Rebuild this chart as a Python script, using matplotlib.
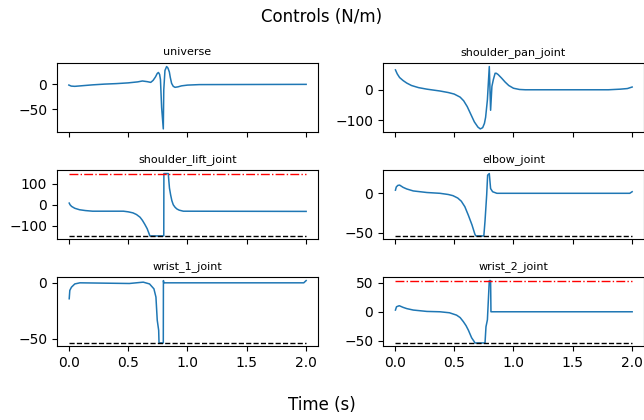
import matplotlib
matplotlib.use("Agg")
import matplotlib.pyplot as plt

# joint torques sampled at the breakpoints of each trace
names = ["universe", "shoulder_pan_joint", "shoulder_lift_joint",
         "elbow_joint", "wrist_1_joint", "wrist_2_joint"]

t_universe = [0.0, 0.02, 0.05, 0.1, 0.2, 0.3, 0.4, 0.5, 0.58, 0.62,
              0.66, 0.69, 0.71, 0.73, 0.745, 0.755, 0.765, 0.772, 0.782,
              0.796, 0.80, 0.81, 0.824, 0.835, 0.847, 0.855, 0.866, 0.88,
              0.895, 0.92, 0.95, 1.0, 1.1, 2.0]
u_universe = [-1.4, -3.5, -4, -3, -1, 0.5, 1.5, 3, 5, 6.8,
              5.5, 4, 8, 15, 22, 24, 20, 10, -47,
              -90, -11, 28, 36, 33, 25, 14, 2, -4,
              -6, -5, -3, -1.5, -0.5, 0]

t_pan = [0.005, 0.02, 0.04, 0.07, 0.1, 0.14, 0.2, 0.27, 0.38, 0.45,
         0.5, 0.55, 0.58, 0.61, 0.64, 0.67, 0.70, 0.72, 0.74, 0.755,
         0.765, 0.780, 0.796, 0.807, 0.818, 0.830, 0.845, 0.855, 0.87,
         0.9, 0.93, 0.96, 1.0, 1.05, 1.1, 1.8, 1.9, 1.96, 2.0]
u_pan = [65, 52, 40, 30, 22, 14, 7, 2, -4, -9,
         -14, -24, -36, -55, -80, -105, -122, -128, -124, -110,
         -90, -33, 76, -67, 11, 33, 54, 54, 50,
         38, 25, 14, 5, 1, 0, 0, 2, 4, 9]

t_lift = [0.003, 0.01, 0.023, 0.05, 0.09, 0.14, 0.2, 0.46, 0.5, 0.54,
          0.57, 0.6, 0.62, 0.64, 0.66, 0.678, 0.683, 0.80, 0.801, 0.838,
          0.842, 0.848, 0.858, 0.868, 0.88, 0.895, 0.91, 0.93, 0.965, 2.0]
u_lift = [8, 0, -8, -17, -24, -28, -31, -31, -34, -39,
          -47, -60, -75, -94, -115, -142, -150, -150, 150, 150,
          120, 80, 47, 20, 0, -12, -20, -26, -31, -32]

t_elbow = [0.005, 0.012, 0.025, 0.04, 0.07, 0.1, 0.155, 0.27, 0.38, 0.45,
           0.49, 0.53, 0.56, 0.59, 0.62, 0.65, 0.675, 0.683, 0.75, 0.76,
           0.774, 0.782, 0.796, 0.807, 0.824, 0.86, 1.98, 2.0]
u_elbow = [4, 8, 10, 10.4, 7.5, 5.5, 3, 1, 0, -1.5,
           -3, -6, -10, -17, -28, -40, -52, -54, -54, -35,
           -2, 23, 25, 6, 2, 0, 0, 2]

t_wrist1 = [0.003, 0.008, 0.022, 0.05, 0.093, 0.51, 0.627, 0.68, 0.717, 0.734,
            0.745, 0.757, 0.76, 0.796, 0.797, 0.80, 1.98, 2.0]
u_wrist1 = [-14.3, -6.8, -3.9, -1, 0, -0.6, 0.6, -1, -5.4, -12.8,
            -33.6, -42.6, -54, -54, 2, 0, 0, 2]

t_wrist2 = [0.005, 0.014, 0.037, 0.07, 0.1, 0.155, 0.27, 0.38, 0.46, 0.52,
            0.55, 0.577, 0.60, 0.62, 0.647, 0.67, 0.675, 0.76, 0.768, 0.78,
            0.788, 0.796, 0.807, 0.81, 2.0]
u_wrist2 = [3, 8.7, 10.5, 7.6, 5.5, 3, 0.6, 0, -1.7, -5.8,
            -10, -17, -24, -32, -45, -52, -54, -54, -26, -14,
            20, 54, 54, 0, 0]

times = [t_universe, t_pan, t_lift, t_elbow, t_wrist1, t_wrist2]
values = [u_universe, u_pan, u_lift, u_elbow, u_wrist1, u_wrist2]

# effort limits (None = not drawn)
upper_limits = [None, None, 150, None, None, 54]
lower_limits = [None, None, -150, -54, -54, -54]

fig, axes = plt.subplots(3, 2, figsize=(6.44, 4.2), dpi=100, sharex=True)
fig.subplots_adjust(left=0.0885, right=1.0, top=0.849, bottom=0.176,
                    wspace=0.249, hspace=0.56)

for ax, name, t, u, up, lo in zip(axes.flat, names, times, values,
                                  upper_limits, lower_limits):
    ax.plot(t, u, color="tab:blue", lw=1.1)
    if up is not None:
        ax.plot([0, t[-1]], [up, up], "r-.", lw=1)
    if lo is not None:
        ax.plot([0, t[-1]], [lo, lo], "k--", lw=1)
    ax.set_title(name, fontsize=8)

for ax in axes[-1]:
    ax.set_xticks([0.0, 0.5, 1.0, 1.5, 2.0])

fig.suptitle("Controls (N/m)", y=0.98)
fig.supxlabel("Time (s)", y=0.015)

fig.savefig("out.png", dpi=100)
